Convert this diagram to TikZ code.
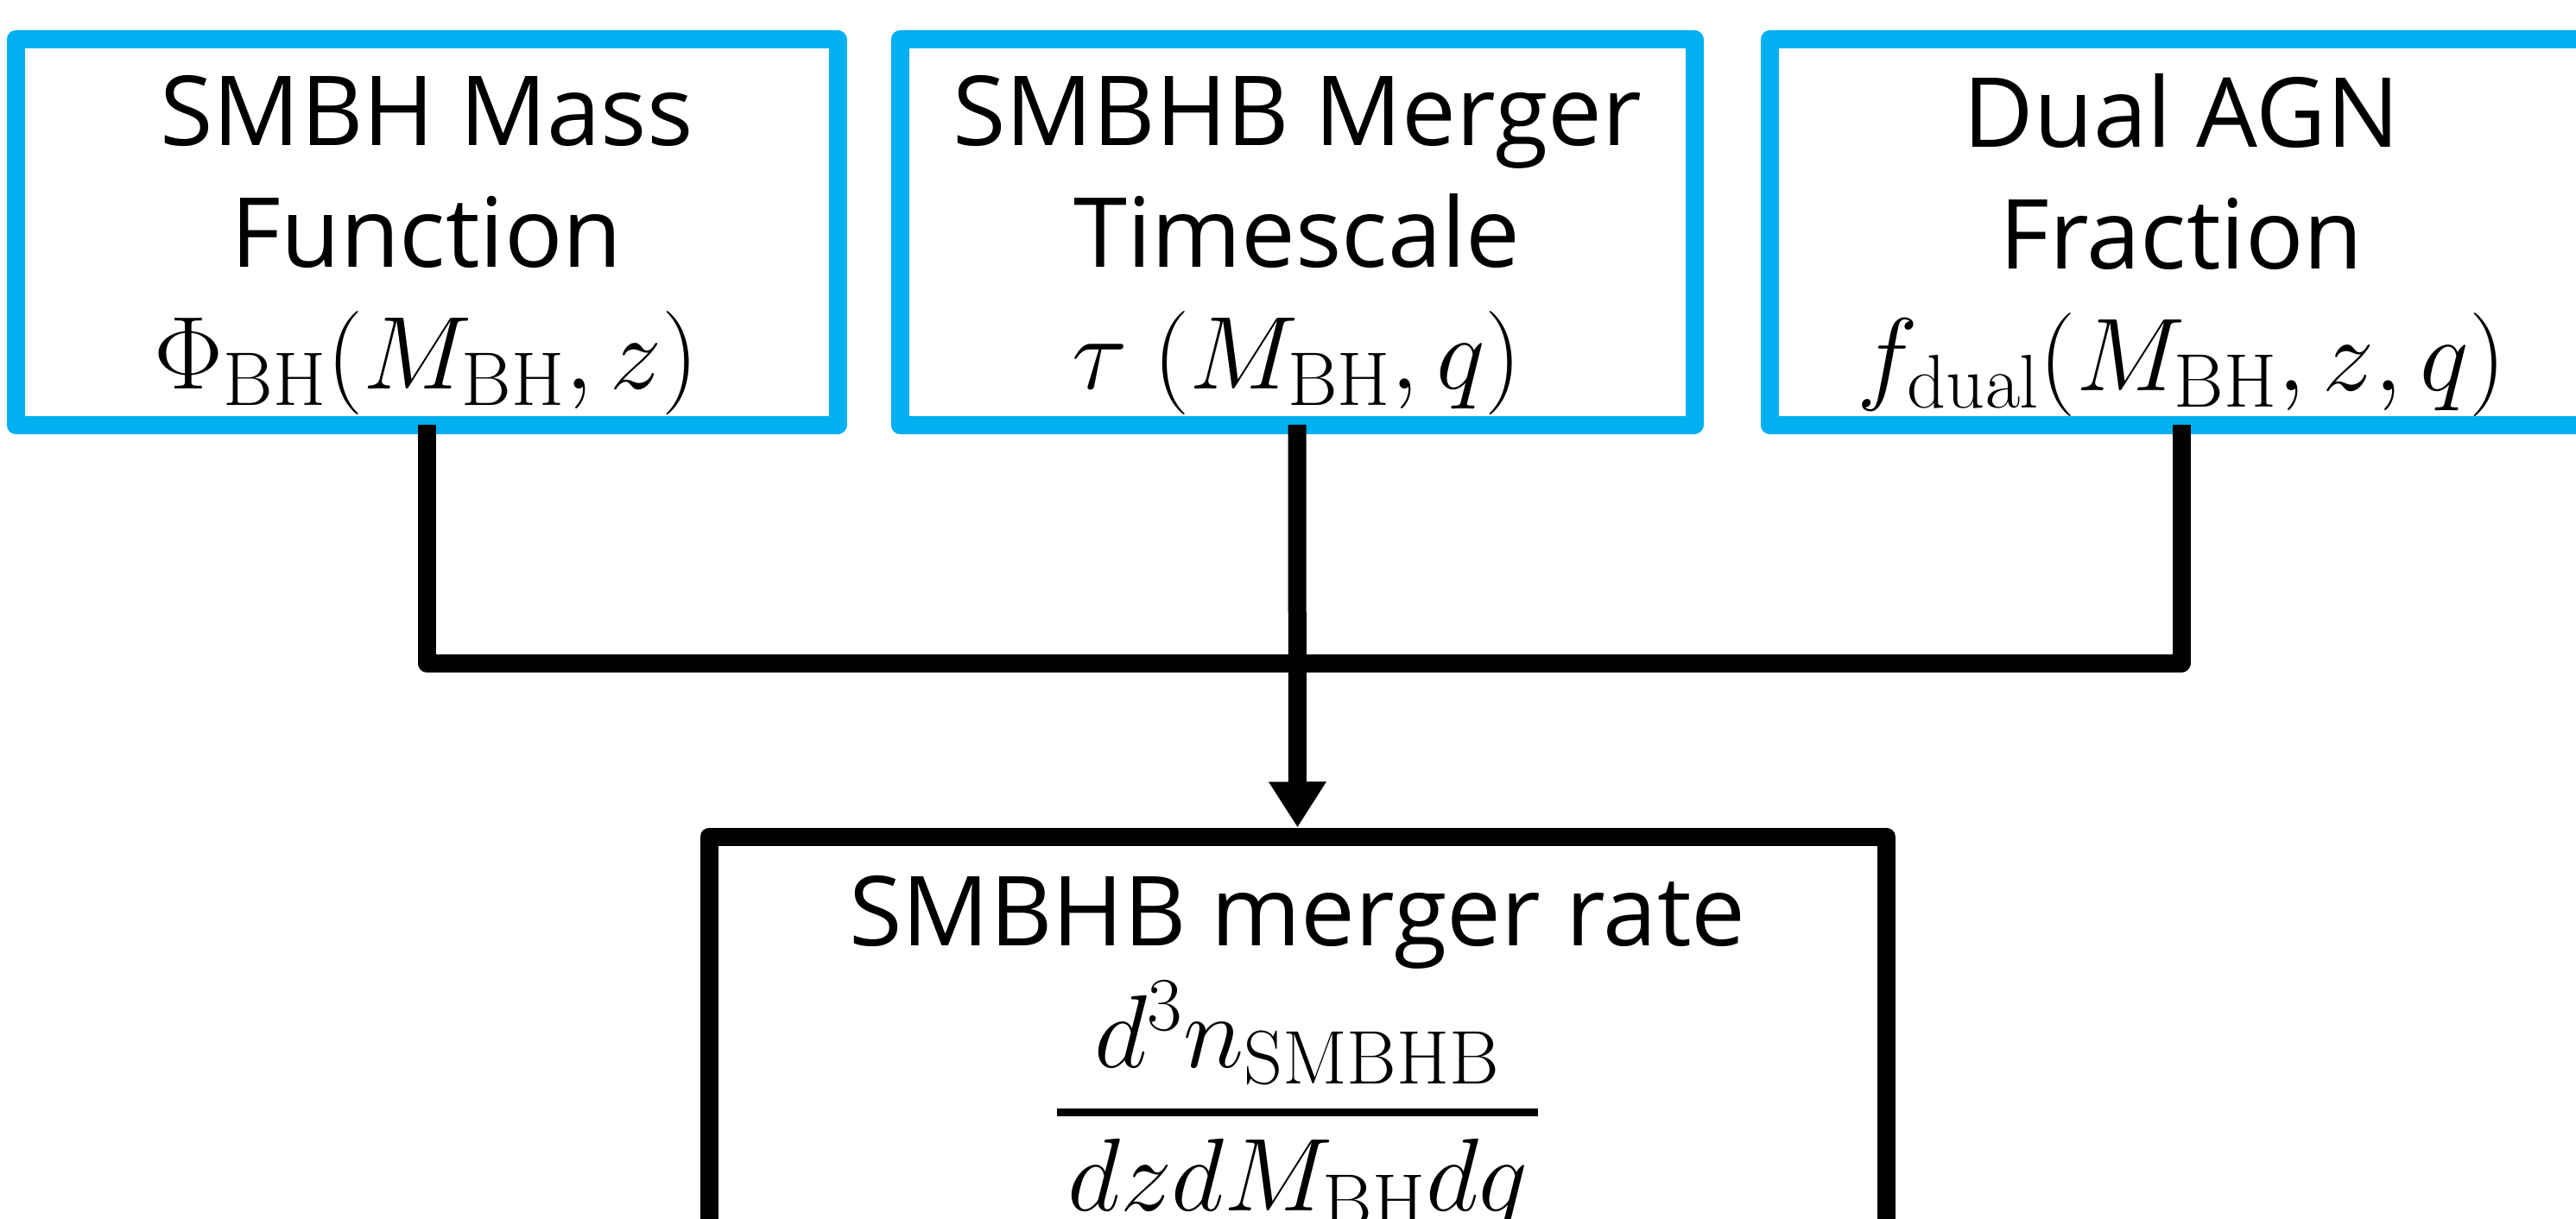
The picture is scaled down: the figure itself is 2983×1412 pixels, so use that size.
\RequirePackage{fix-cm}
\documentclass[tikz,border=0pt]{standalone}
\usepackage{amsmath}
\usepackage[no-math]{fontspec}
\setmainfont{Open Sans}
\usetikzlibrary{arrows.meta}
\definecolor{boxblue}{HTML}{00B0F0}
\DeclareMathSizes{56}{60}{44}{33}
\newcommand\boxfont{\fontsize{56}{70.5}\selectfont\lineskiplimit=-100pt\relax}
\newcommand\ratefont{\fontsize{56}{111.5}\selectfont\lineskiplimit=-100pt\relax}
\newcommand\nodepth[1]{\raisebox{0pt}[\height][0pt]{#1}}
\begin{document}
\begin{tikzpicture}[x=0.5pt,y=-0.5pt,
  bluebox/.style={draw=boxblue, line width=10.5pt, line join=round, rectangle,
    inner sep=0pt, outer sep=0pt, align=center, minimum height=223pt, font=\boxfont},
  ratebox/.style={draw=black, line width=10.5pt, line join=round, rectangle,
    inner sep=0pt, align=center, minimum width=681.5pt, minimum height=265.5pt, font=\ratefont},
  conn/.style={draw=black, line width=10.5pt, line join=round}]
\useasboundingbox (0,0) rectangle (2983,1412);
\node[bluebox, minimum width=476pt] (b1) at (494,269)
  {SMBH Mass\\Function\\\nodepth{$\Phi_{\mathrm{BH}}(M_{\mathrm{BH}},z)$}};
\node[bluebox, minimum width=460pt] (b2) at (1502,269)
  {SMBHB Merger\\Timescale\\\nodepth{$\tau\ (M_{\mathrm{BH}},q)$}};
\node[bluebox, minimum width=477pt] (b3) at (2526,269)
  {Dual AGN\\Fraction\\\nodepth{$f_{\mathrm{dual}}(M_{\mathrm{BH}},z,q)$}};
\node[ratebox] (rate) at (1502.5,1234.5)
  {SMBHB merger rate\\\raisebox{0pt}[\height][68.5pt]{$\genfrac{}{}{4.5pt}{0}{d^3n_{\mathrm{SMBHB}}}{\hspace{6pt}dzdM_{\mathrm{BH}}dq\hspace{6pt}}$}};
\coordinate (bus) at (1502,768);
\draw[conn] (b1.south) |- (bus) -| (b3.south);
\draw[conn, -{Triangle[width=31.5pt,length=26.5pt]}] (b2.south) -- (rate.north);
\end{tikzpicture}
\end{document}
